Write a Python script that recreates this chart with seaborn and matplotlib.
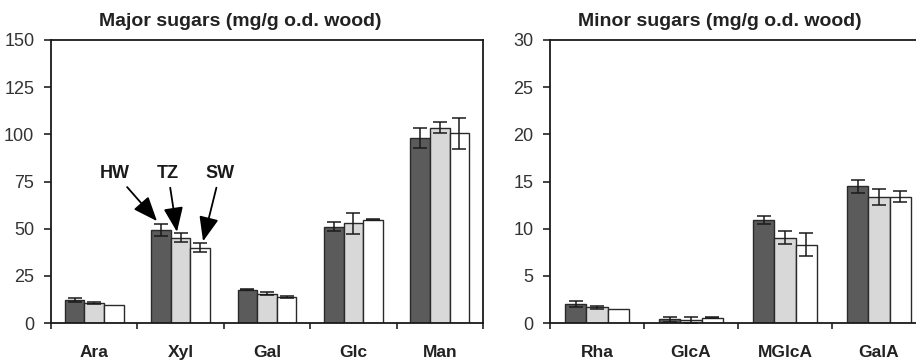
import numpy as np
import pandas as pd
import seaborn as sns
import matplotlib.pyplot as plt
from matplotlib.container import BarContainer
from matplotlib.ticker import FixedLocator

# data
major_sugars = ['Ara', 'Xyl', 'Gal', 'Glc', 'Man']
major_hw = [12.0, 49.5, 17.6, 51.0, 97.8]
major_tz = [10.7, 45.2, 15.6, 52.8, 103.5]
major_sw = [9.4, 40.0, 13.8, 54.8, 100.6]
major_hw_err = [1.0, 3.2, 0.3, 2.3, 5.3]
major_tz_err = [0.6, 2.4, 1.0, 5.6, 3.0]
major_sw_err = [0.0, 2.4, 0.5, 0.3, 8.3]

minor_sugars = ['Rha', 'GlcA', 'MGlcA', 'GalA']
minor_hw = [2.0, 0.4, 10.9, 14.5]
minor_tz = [1.65, 0.3, 9.05, 13.4]
minor_sw = [1.45, 0.55, 8.3, 13.4]
minor_hw_err = [0.35, 0.25, 0.4, 0.7]
minor_tz_err = [0.2, 0.3, 0.65, 0.85]
minor_sw_err = [0.0, 0.05, 1.25, 0.6]

wood = ['HW', 'TZ', 'SW']
colors = {'HW': '#5b5b5b', 'TZ': '#d8d8d8', 'SW': '#ffffff'}

sns.set_style('white')
plt.rcParams['font.family'] = ['Liberation Sans', 'DejaVu Sans']


def long_table(cats, series):
    rows = []
    for name, vals in series.items():
        for c, v in zip(cats, vals):
            rows.append({'sugar': c, 'wood': name, 'value': v})
    return pd.DataFrame(rows)


def draw_panel(ax, cats, series, errs, ymax, title, title_x):
    df = long_table(cats, series)
    sns.barplot(data=df, x='sugar', y='value', hue='wood', order=cats,
                hue_order=wood, palette=colors, errorbar=None, width=0.68,
                gap=0, edgecolor='#2a2a2a', linewidth=1.0, legend=False, ax=ax)
    # error bars on top of the seaborn bars (skip the ones with no spread)
    bars = [c for c in ax.containers if isinstance(c, BarContainer)]
    for cont in bars:
        heights = np.array([p.get_height() for p in cont])
        for name in wood:
            if np.allclose(heights, series[name]):
                for p in cont:
                    xc = p.get_x() + p.get_width() / 2
                    i = int(round(xc))
                    if errs[name][i] <= 0:
                        continue
                    ax.errorbar(xc, p.get_height(), yerr=errs[name][i], fmt='none',
                                ecolor='#1a1a1a', elinewidth=1.1, capsize=5,
                                capthick=1.1, zorder=5)
    ax.set_ylim(0, ymax)
    ax.set_xlim(-0.5, len(cats) - 0.5)
    ax.set_yticks(np.linspace(0, ymax, 7))
    ax.set_xlabel('')
    ax.set_ylabel('')
    ax.xaxis.set_minor_locator(FixedLocator(np.arange(-0.5, len(cats), 1.0)))
    ax.tick_params(axis='x', which='major', length=0, pad=16)
    ax.tick_params(axis='x', which='minor', direction='out', length=4,
                   width=1.2, color='#222222', bottom=True)
    ax.tick_params(axis='y', direction='out', length=5, width=1.2,
                   color='#222222', left=True, pad=7, labelsize=13,
                   labelcolor='#333333')
    for lab in ax.get_xticklabels():
        lab.set_fontweight('bold')
        lab.set_fontsize(12.5)
        lab.set_color('#222222')
    for sp in ax.spines.values():
        sp.set_color('#1a1a1a')
        sp.set_linewidth(1.3)
    ax.set_title(title, fontsize=14, fontweight='bold', color='#222222',
                 x=title_x, pad=10)


fig = plt.figure(figsize=(9.16, 3.6), dpi=100)
ax1 = fig.add_axes([51 / 916, 37 / 360, 432 / 916, 283 / 360])
ax2 = fig.add_axes([550 / 916, 37 / 360, 376 / 916, 283 / 360])

draw_panel(ax1, major_sugars,
           {'HW': major_hw, 'TZ': major_tz, 'SW': major_sw},
           {'HW': major_hw_err, 'TZ': major_tz_err, 'SW': major_sw_err},
           150, 'Major sugars (mg/g o.d. wood)', 0.4375)
draw_panel(ax2, minor_sugars,
           {'HW': minor_hw, 'TZ': minor_tz, 'SW': minor_sw},
           {'HW': minor_hw_err, 'TZ': minor_tz_err, 'SW': minor_sw_err},
           30, 'Minor sugars (mg/g o.d. wood)', 0.452)

# arrows pointing at the Xyl bars
arrow_kw = dict(arrowstyle='-|>,head_length=1.5,head_width=0.6',
                mutation_scale=10, color='black', lw=1.3,
                shrinkA=2, shrinkB=0)
for label, txt_x, tip_x, tip_y in [('HW', 0.24, 0.727, 54.0),
                                   ('TZ', 0.854, 0.958, 48.3),
                                   ('SW', 1.456, 1.26, 43.3)]:
    ax1.annotate(label, xy=(tip_x, tip_y), xytext=(txt_x, 79.4),
                 ha='center', va='center', fontsize=13, fontweight='bold',
                 color='#1a1a1a', arrowprops=arrow_kw)

fig.savefig('out.png', dpi=100)
